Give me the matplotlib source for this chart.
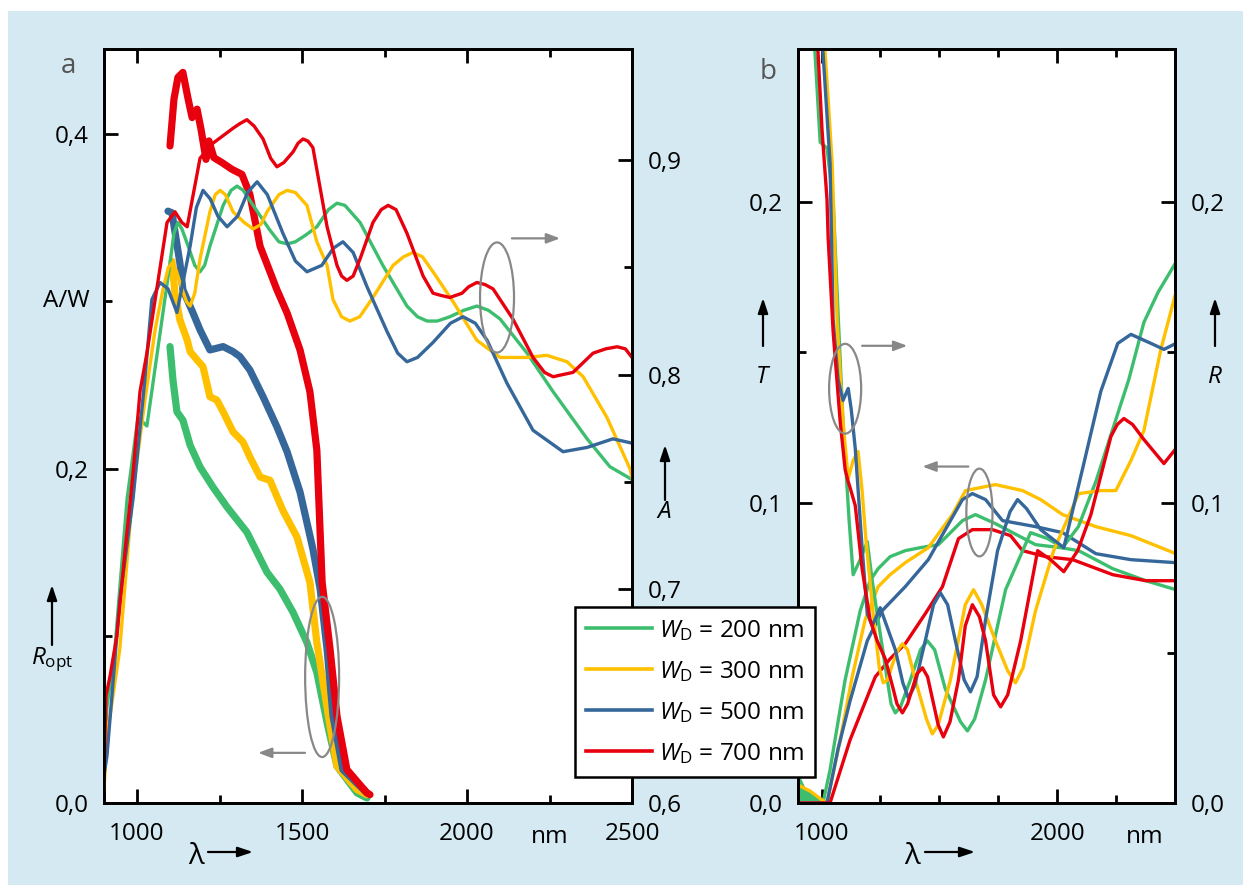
import matplotlib
matplotlib.use("Agg")
import matplotlib.pyplot as plt
from matplotlib.patches import Ellipse, Rectangle

plt.rcParams["font.family"] = ["Open Sans", "DejaVu Sans"]
plt.rcParams["mathtext.fontset"] = "custom"
plt.rcParams["mathtext.rm"] = "Open Sans"
plt.rcParams["mathtext.it"] = "Open Sans:italic"

# ---- colours / labels ----
labels = ["200 nm", "300 nm", "500 nm", "700 nm"]
colors = ["#3dbe6e", "#ffc000", "#35679a", "#e8000e"]

# ---- panel a: responsivity R_opt (A/W), thick lines ----
ropt_wl = [
    [1100, 1109, 1121, 1139, 1161, 1191, 1230, 1273, 1333, 1394, 1433, 1473, 1515, 1545, 1576, 1606, 1667, 1697],
    [1106, 1115, 1130, 1152, 1161, 1182, 1200, 1221, 1242, 1261, 1291, 1321, 1342, 1373, 1403, 1442, 1485, 1524,
     1545, 1564, 1585, 1606, 1667, 1697],
    [1094, 1106, 1130, 1139, 1170, 1191, 1221, 1261, 1291, 1312, 1342, 1382, 1424, 1455, 1494, 1533, 1555, 1576,
     1594, 1624, 1697],
    [1100, 1112, 1124, 1139, 1155, 1167, 1182, 1194, 1209, 1218, 1233, 1258, 1288, 1318, 1342, 1373, 1424, 1455,
     1494, 1524, 1545, 1561, 1585, 1606, 1636, 1697, 1706],
]
ropt_val = [
    [0.273, 0.253, 0.234, 0.229, 0.214, 0.201, 0.189, 0.177, 0.162, 0.138, 0.128, 0.114, 0.096, 0.078, 0.048,
     0.022, 0.006, 0.003],
    [0.324, 0.305, 0.289, 0.277, 0.270, 0.265, 0.261, 0.243, 0.241, 0.234, 0.222, 0.216, 0.207, 0.195, 0.193,
     0.175, 0.159, 0.132, 0.096, 0.072, 0.046, 0.022, 0.008, 0.005],
    [0.354, 0.353, 0.323, 0.307, 0.293, 0.283, 0.271, 0.273, 0.270, 0.267, 0.259, 0.243, 0.225, 0.210, 0.186,
     0.152, 0.128, 0.092, 0.052, 0.020, 0.006],
    [0.393, 0.421, 0.434, 0.437, 0.421, 0.410, 0.415, 0.403, 0.385, 0.396, 0.386, 0.383, 0.379, 0.376, 0.364,
     0.333, 0.307, 0.293, 0.271, 0.246, 0.211, 0.132, 0.092, 0.052, 0.020, 0.006, 0.005],
]

# ---- panel a: absorption A, thin lines ----
abs_wl = [
    [900, 909, 933, 970, 1003, 1030, 1064, 1100, 1112, 1124, 1136, 1155, 1175, 1191, 1205, 1221, 1261, 1285,
     1303, 1322, 1352, 1400, 1430, 1455, 1480, 1510, 1545, 1580, 1606, 1630, 1676, 1745, 1818, 1850, 1879, 1910,
     1948, 1990, 2030, 2065, 2100, 2182, 2261, 2364, 2433, 2500],
    [900, 909, 948, 985, 1024, 1055, 1079, 1095, 1106, 1118, 1136, 1150, 1161, 1175, 1191, 1221, 1237, 1252,
     1268, 1291, 1325, 1352, 1375, 1394, 1430, 1455, 1480, 1515, 1545, 1576, 1594, 1620, 1645, 1675, 1715, 1776,
     1808, 1836, 1865, 1897, 1958, 2030, 2100, 2182, 2242, 2303, 2352, 2424, 2494, 2500],
    [900, 909, 948, 988, 1024, 1045, 1070, 1094, 1121, 1161, 1180, 1200, 1222, 1245, 1273, 1305, 1335, 1364,
     1395, 1442, 1480, 1515, 1560, 1595, 1624, 1655, 1697, 1758, 1790, 1818, 1850, 1897, 1950, 1988, 2025, 2061,
     2121, 2200, 2291, 2364, 2442, 2500],
    [900, 906, 918, 939, 964, 988, 1009, 1030, 1061, 1091, 1115, 1136, 1152, 1191, 1230, 1291, 1310, 1333, 1355,
     1382, 1405, 1424, 1445, 1473, 1488, 1503, 1518, 1533, 1576, 1606, 1620, 1636, 1655, 1676, 1715, 1740, 1761,
     1785, 1818, 1867, 1897, 1920, 1948, 1985, 2005, 2030, 2055, 2079, 2139, 2200, 2235, 2261, 2290, 2321, 2382,
     2420, 2455, 2480, 2500],
]
abs_val = [
    [0.620, 0.645, 0.672, 0.742, 0.780, 0.776, 0.813, 0.852, 0.866, 0.871, 0.868, 0.860, 0.851, 0.848, 0.851,
     0.860, 0.879, 0.886, 0.888, 0.886, 0.879, 0.868, 0.862, 0.861, 0.862, 0.865, 0.869, 0.877, 0.880, 0.879,
     0.871, 0.851, 0.832, 0.827, 0.825, 0.825, 0.827, 0.830, 0.832, 0.830, 0.826, 0.810, 0.792, 0.770, 0.757,
     0.751],
    [0.606, 0.631, 0.672, 0.742, 0.788, 0.821, 0.840, 0.850, 0.852, 0.849, 0.840, 0.834, 0.832, 0.838, 0.854,
     0.876, 0.884, 0.886, 0.884, 0.876, 0.871, 0.868, 0.870, 0.876, 0.884, 0.886, 0.885, 0.879, 0.862, 0.851,
     0.835, 0.827, 0.825, 0.827, 0.836, 0.851, 0.855, 0.857, 0.855, 0.848, 0.834, 0.816, 0.808, 0.808, 0.809,
     0.806, 0.799, 0.780, 0.756, 0.752],
    [0.613, 0.622, 0.695, 0.742, 0.798, 0.835, 0.843, 0.840, 0.829, 0.860, 0.878, 0.886, 0.882, 0.874, 0.869,
     0.874, 0.885, 0.890, 0.884, 0.866, 0.853, 0.848, 0.851, 0.859, 0.862, 0.857, 0.841, 0.820, 0.810, 0.806,
     0.808, 0.815, 0.824, 0.827, 0.824, 0.816, 0.796, 0.774, 0.764, 0.766, 0.770, 0.768],
    [0.613, 0.650, 0.659, 0.678, 0.718, 0.754, 0.792, 0.810, 0.841, 0.871, 0.876, 0.871, 0.869, 0.901, 0.908,
     0.915, 0.917, 0.919, 0.916, 0.910, 0.901, 0.897, 0.899, 0.904, 0.908, 0.910, 0.909, 0.906, 0.869, 0.851,
     0.846, 0.844, 0.846, 0.854, 0.871, 0.877, 0.879, 0.877, 0.866, 0.846, 0.838, 0.837, 0.836, 0.838, 0.841,
     0.843, 0.842, 0.840, 0.826, 0.808, 0.801, 0.799, 0.800, 0.801, 0.810, 0.812, 0.813, 0.812, 0.808],
]

# ---- panel b: transmission T ----
t_wl = [
    [900, 930, 972, 1006, 1036, 1057, 1100, 1164, 1206, 1240, 1291, 1355, 1419, 1496, 1598, 1653, 1738, 1811,
     1908, 2015, 2091, 2236, 2376, 2504],
    [900, 951, 1002, 1023, 1079, 1130, 1185, 1240, 1291, 1355, 1453, 1555, 1611, 1674, 1738, 1853, 1930, 2023,
     2164, 2313, 2504],
    [900, 1023, 1070, 1121, 1194, 1257, 1355, 1453, 1547, 1598, 1640, 1696, 1768, 1908, 2023, 2164, 2313, 2504],
    [900, 1036, 1121, 1228, 1291, 1355, 1440, 1513, 1581, 1640, 1725, 1802, 1853, 1951, 2066, 2236, 2376, 2504],
]
t_val = [
    [0.009, 0.004, 0.002, 0.0, 0.011, 0.021, 0.041, 0.064, 0.074, 0.078, 0.082, 0.084, 0.085, 0.086, 0.094,
     0.096, 0.093, 0.090, 0.086, 0.085, 0.084, 0.078, 0.074, 0.071],
    [0.006, 0.004, 0.001, 0.0, 0.021, 0.042, 0.061, 0.072, 0.076, 0.080, 0.085, 0.096, 0.104, 0.105, 0.106,
     0.104, 0.101, 0.096, 0.092, 0.089, 0.083],
    [0.0, 0.0, 0.018, 0.034, 0.054, 0.064, 0.072, 0.081, 0.094, 0.101, 0.103, 0.101, 0.094, 0.092, 0.090, 0.083,
     0.081, 0.080],
    [0.0, 0.0, 0.021, 0.042, 0.048, 0.053, 0.063, 0.072, 0.088, 0.091, 0.091, 0.089, 0.084, 0.082, 0.081, 0.076,
     0.074, 0.074],
]

# ---- panel b: reflection R ----
r_wl = [
    [955, 972, 994, 1023, 1049, 1070, 1091, 1117, 1134, 1164, 1194, 1215, 1236, 1279, 1295, 1313, 1335, 1377,
     1420, 1449, 1480, 1525, 1590, 1619, 1650, 1696, 1781, 1887, 1960, 2023, 2090, 2164, 2304, 2368, 2428, 2504],
    [964, 1015, 1045, 1066, 1091, 1113, 1134, 1155, 1172, 1189, 1219, 1245, 1262, 1280, 1300, 1325, 1343, 1365,
     1398, 1445, 1470, 1495, 1547, 1610, 1645, 1680, 1738, 1790, 1823, 1855, 1908, 1985, 2091, 2185, 2249, 2313,
     2368, 2440, 2504],
    [972, 1006, 1036, 1049, 1070, 1091, 1113, 1126, 1143, 1172, 1194, 1215, 1249, 1313, 1345, 1368, 1395, 1440,
     1475, 1504, 1535, 1568, 1605, 1632, 1660, 1696, 1747, 1800, 1832, 1870, 1930, 2028, 2113, 2185, 2257, 2313,
     2398, 2453, 2504],
    [960, 985, 1002, 1023, 1028, 1049, 1079, 1100, 1113, 1121, 1143, 1172, 1206, 1236, 1270, 1304, 1320, 1343,
     1365, 1405, 1428, 1450, 1495, 1517, 1545, 1581, 1610, 1640, 1670, 1696, 1730, 1760, 1790, 1845, 1917, 1972,
     2028, 2087, 2143, 2228, 2255, 2283, 2320, 2368, 2453, 2504],
]
r_val = [
    [0.267, 0.250, 0.220, 0.218, 0.201, 0.163, 0.127, 0.094, 0.076, 0.081, 0.087, 0.074, 0.063, 0.041, 0.033,
     0.030, 0.032, 0.041, 0.051, 0.054, 0.051, 0.038, 0.027, 0.024, 0.028, 0.041, 0.071, 0.090, 0.088, 0.085,
     0.092, 0.107, 0.141, 0.160, 0.170, 0.180],
    [0.267, 0.250, 0.213, 0.160, 0.127, 0.108, 0.114, 0.117, 0.104, 0.087, 0.063, 0.045, 0.040, 0.041, 0.046,
     0.051, 0.053, 0.051, 0.041, 0.028, 0.023, 0.026, 0.041, 0.066, 0.071, 0.066, 0.054, 0.044, 0.040, 0.045,
     0.064, 0.084, 0.103, 0.104, 0.104, 0.114, 0.124, 0.151, 0.170],
    [0.267, 0.250, 0.213, 0.161, 0.141, 0.134, 0.138, 0.131, 0.118, 0.085, 0.063, 0.059, 0.065, 0.051, 0.040,
     0.035, 0.039, 0.054, 0.066, 0.070, 0.066, 0.054, 0.041, 0.037, 0.042, 0.061, 0.084, 0.097, 0.101, 0.098,
     0.091, 0.085, 0.113, 0.137, 0.153, 0.156, 0.153, 0.151, 0.153],
    [0.267, 0.250, 0.224, 0.201, 0.188, 0.157, 0.127, 0.111, 0.107, 0.105, 0.099, 0.078, 0.061, 0.054, 0.048,
     0.038, 0.033, 0.030, 0.033, 0.043, 0.045, 0.042, 0.026, 0.022, 0.027, 0.041, 0.059, 0.066, 0.062, 0.054,
     0.036, 0.032, 0.036, 0.054, 0.084, 0.081, 0.077, 0.084, 0.096, 0.122, 0.126, 0.128, 0.126, 0.121, 0.113,
     0.118],
]

W, H = 1251, 885


def fx(px):
    return px / W


def fy(py):
    return 1 - py / H


fig = plt.figure(figsize=(W / 100, H / 100), dpi=100)
fig.patch.set_facecolor("white")
fig.patches.append(Rectangle((fx(8), 0), fx(1243) - fx(8), fy(11), transform=fig.transFigure,
                             facecolor="#d4e9f1", edgecolor="none", zorder=-10))

ax_a = fig.add_axes([fx(104), fy(803), fx(632) - fx(104), fy(49) - fy(803)])
ax_b = fig.add_axes([fx(798), fy(803), fx(1175) - fx(798), fy(49) - fy(803)])
ax_a2 = ax_a.twinx()
ax_b2 = ax_b.twinx()

fs = 17.5
for ax in (ax_a, ax_a2, ax_b, ax_b2):
    for s in ax.spines.values():
        s.set_linewidth(2.0)
    ax.tick_params(which="both", direction="in", width=2.0, labelsize=fs, pad=11)
    ax.tick_params(which="major", length=10)
    ax.tick_params(which="minor", length=6)

for ax in (ax_a, ax_b):
    ax.set_xlim(900, 2500)
    ax.tick_params(axis="x", which="both", top=True, pad=14)
    ax.tick_params(axis="y", which="both", right=False)

# panel a axes
ax_a.set_ylim(0, 0.451)
ax_a.set_yticks([0.0, 0.2, 0.4])
ax_a.set_yticklabels(["0,0", "0,2", "0,4"])
ax_a.set_yticks([0.1, 0.3], minor=True)
ax_a.set_xticks([1000, 1500, 2000, 2500])
ax_a.set_xticklabels(["1000", "1500", "2000", "2500"])
ax_a.set_xticks([1250, 1750, 2250], minor=True)
ax_a.text(-0.028, 0.3, "A/W", transform=ax_a.get_yaxis_transform(), ha="right", va="center", fontsize=fs)

ax_a2.set_ylim(0.6, 0.952)
ax_a2.set_yticks([0.6, 0.7, 0.8, 0.9])
ax_a2.set_yticklabels(["0,6", "0,7", "0,8", "0,9"])
ax_a2.set_yticks([0.65, 0.75, 0.85], minor=True)

# panel b axes
for ax in (ax_b, ax_b2):
    ax.set_ylim(0, 0.251)
    ax.set_yticks([0.0, 0.1, 0.2])
    ax.set_yticklabels(["0,0", "0,1", "0,2"])
    ax.set_yticks([0.05, 0.15], minor=True)
ax_b.set_xticks([1000, 2000])
ax_b.set_xticklabels(["1000", "2000"])
ax_b.set_xticks([1250, 1500, 1750, 2250], minor=True)

fig.text(fx(550), fy(843), "nm", fontsize=fs, ha="center", va="baseline")
fig.text(fx(1145), fy(843), "nm", fontsize=fs, ha="center", va="baseline")

# ---- curves ----
for i in range(4):
    ax_a.plot(ropt_wl[i], ropt_val[i], color=colors[i], lw=5.2, solid_capstyle="round", solid_joinstyle="round")
    ax_a2.plot(abs_wl[i], abs_val[i], color=colors[i], lw=2.4, solid_joinstyle="round")
    ax_b.plot(t_wl[i], t_val[i], color=colors[i], lw=2.4, solid_joinstyle="round")
    ax_b2.plot(r_wl[i], r_val[i], color=colors[i], lw=2.4, solid_joinstyle="round")
# noisy low-transmission patch of the 200 nm sample
ax_b.fill_between(t_wl[0][:4], t_val[0][:4], color=colors[0], lw=0)

# ---- gray markers: ellipses and arrows ----
grey = "#888888"
ax_a.add_patch(Ellipse((1561, 0.0754), 103, 0.0958, fill=False, edgecolor=grey, lw=1.6, zorder=5))
ax_a2.add_patch(Ellipse((2091, 0.836), 103, 0.0514, fill=False, edgecolor=grey, lw=1.6, zorder=5))
ax_b2.add_patch(Ellipse((1100, 0.1379), 136, 0.0299, fill=False, edgecolor=grey, lw=1.6, zorder=5))
ax_b.add_patch(Ellipse((1670, 0.0967), 111, 0.0292, fill=False, edgecolor=grey, lw=1.6, zorder=5))
arr = dict(arrowstyle="-|>,head_length=0.8,head_width=0.3", color=grey, lw=1.6, shrinkA=0, shrinkB=0)
ax_a.annotate("", xy=(1367, 0.030), xytext=(1509, 0.030), arrowprops=arr)
ax_a2.annotate("", xy=(2282, 0.8636), xytext=(2136, 0.8636), arrowprops=arr)
ax_b2.annotate("", xy=(1364, 0.1522), xytext=(1172, 0.1522), arrowprops=arr)
ax_b.annotate("", xy=(1428, 0.112), xytext=(1623, 0.112), arrowprops=arr)

# ---- axis labels with arrows ----
blk = dict(arrowstyle="-|>,head_length=0.9,head_width=0.3", color="black", lw=1.6, shrinkA=0, shrinkB=0)
for (x0, y0, x1, y1) in [(52, 645, 52, 585), (665, 500, 665, 445), (763, 346, 763, 298), (1215, 346, 1215, 298),
                         (208, 852, 253, 852), (925, 852, 975, 852)]:
    fig.add_artist(plt.Annotation("", xy=(fx(x1), fy(y1)), xytext=(fx(x0), fy(y0)), xycoords="figure fraction",
                                  textcoords="figure fraction", arrowprops=blk))
fig.text(fx(52), fy(660), r"$R_{\mathrm{opt}}$", fontsize=fs, ha="center", va="center")
fig.text(fx(664), fy(512), r"$A$", fontsize=fs, ha="center", va="center")
fig.text(fx(763), fy(377), r"$T$", fontsize=fs, ha="center", va="center")
fig.text(fx(1215), fy(377), r"$R$", fontsize=fs, ha="center", va="center")
fig.text(fx(196), fy(857), "λ", fontsize=21, ha="center", va="center")
fig.text(fx(912), fy(857), "λ", fontsize=21, ha="center", va="center")
fig.text(fx(68), fy(66), "a", fontsize=20, color="#555555", ha="center", va="center")
fig.text(fx(768), fy(72), "b", fontsize=20, color="#555555", ha="center", va="center")

# ---- legend ----
handles = [plt.Line2D([], [], color=c, lw=2.6) for c in colors]
leg = fig.legend(handles, [r"$W_{\mathrm{D}}$ = " + l for l in labels], loc="upper left",
                 bbox_to_anchor=(fx(575), fy(607)), bbox_transform=fig.transFigure, fontsize=fs,
                 frameon=True, fancybox=False, framealpha=1, edgecolor="black", handlelength=2.7,
                 handletextpad=0.3, borderpad=0.45, labelspacing=0.66, borderaxespad=0)
leg.get_frame().set_linewidth(1.8)
leg.set_zorder(20)

fig.savefig("out.png", dpi=100, facecolor=fig.get_facecolor())
